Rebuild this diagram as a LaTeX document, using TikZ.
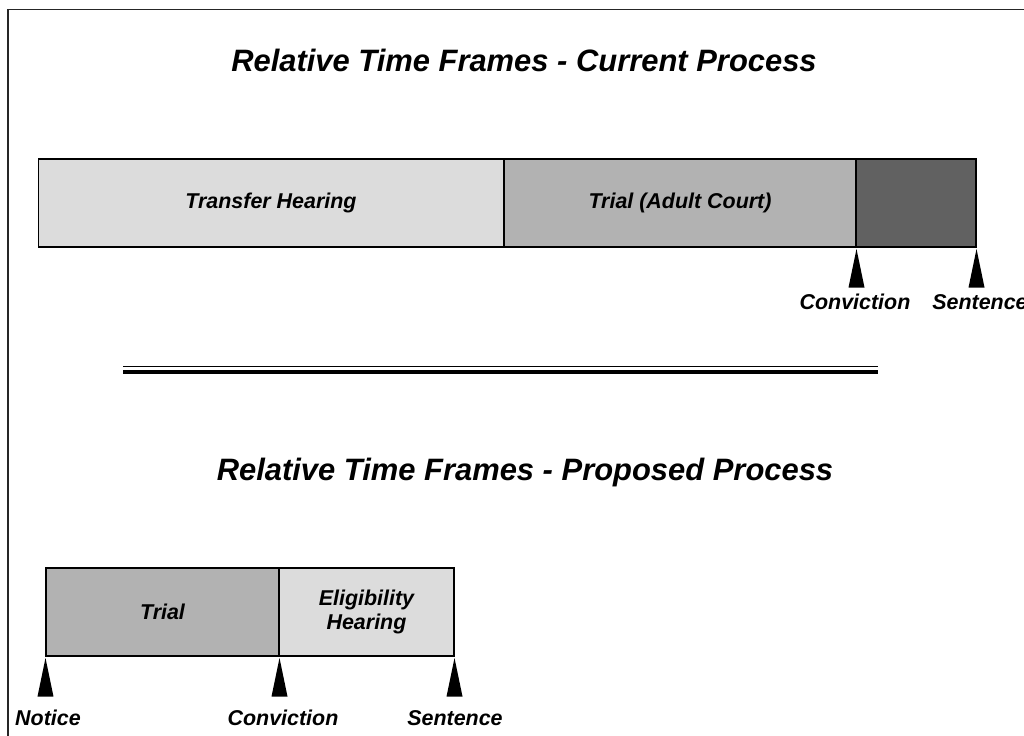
\documentclass[tikz,border=0pt]{standalone}
\usepackage{fontspec}
\setmainfont{Liberation Sans}

\definecolor{lightbar}{HTML}{DCDCDC}
\definecolor{midbar}{HTML}{B2B2B2}
\definecolor{darkbar}{HTML}{616161}

% filled pointer under a point of a time bar
\newcommand{\tickmark}[1]{\fill (#1) ++(0,1.5) -- ++(-8,38.5) -- ++(16,0) -- cycle;}

\begin{document}
\begin{tikzpicture}[x=0.02cm,y=-0.02cm,
    seg/.style={draw=black,line width=0.6pt,minimum height=1.76cm,inner sep=0pt,align=center,
                font=\bfseries\itshape\fontsize{12.2}{14}\selectfont},
    heading/.style={font=\bfseries\itshape\fontsize{17.6}{20}\selectfont},
    ticklbl/.style={anchor=base,font=\bfseries\itshape\fontsize{12.2}{14}\selectfont}]

      \useasboundingbox (0,0) rectangle (1024,736);
      \draw[line width=1pt,black!85] (8,736) -- (8,9.5) -- (1024,9.5);

      % current process
      \node[heading] (t1) at (524,60){Relative Time Frames - Current Process};

      \node[seg,fill=lightbar,minimum width=9.32cm] (transfer) at (271,203){Transfer Hearing};
      \node[seg,fill=midbar,minimum width=7.04cm] (adult) at (680,203){Trial (Adult Court)};
      \node[seg,fill=darkbar,minimum width=2.40cm] (sent) at (916,203){};

      \coordinate (c1) at (adult.south east);
      \coordinate (s1) at (sent.south east);
      \tickmark{c1}
      \tickmark{s1}
      \node[ticklbl] (conv1) at (855,310){Conviction};
      \node[ticklbl] (sentence1) at (980,310){Sentence};

      % separator
      \draw[line width=0.9pt] (123,366.5) -- (878,366.5);
      \draw[line width=2.8pt] (123,372) -- (878,372);

      % proposed process
      \node[heading] (t2) at (525,473){Relative Time Frames - Proposed Process};

      \node[seg,fill=midbar,minimum width=4.66cm] (trial) at (162.5,612){Trial};
      \node[seg,fill=lightbar,minimum width=3.50cm] (elig) at (366.5,612){Eligibility\\Hearing};

      \coordinate (n2) at (trial.south west);
      \coordinate (c2) at (trial.south east);
      \coordinate (s2) at (elig.south east);
      \tickmark{n2}
      \tickmark{c2}
      \tickmark{s2}
      \node[ticklbl] (notice2) at (48,725){Notice};
      \node[ticklbl] (conv2) at (283,725){Conviction};
      \node[ticklbl] (sentence2) at (455,725){Sentence};
    \end{tikzpicture}
\end{document}
